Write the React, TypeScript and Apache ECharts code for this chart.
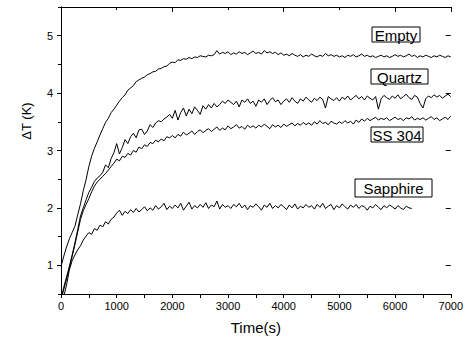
import React, { useEffect, useRef } from "react";
import * as echarts from "echarts";

const STEP = 50;
const EMPTY = [
  0.98, 1.16, 1.32, 1.46, 1.57, 1.68, 1.88, 2.07, 2.3, 2.49,
  2.72, 2.9, 3.04, 3.15, 3.27, 3.38, 3.49, 3.56, 3.66, 3.72,
  3.79, 3.86, 3.92, 3.97, 4.05, 4.09, 4.13, 4.2, 4.23, 4.26,
  4.28, 4.32, 4.34, 4.37, 4.38, 4.42, 4.43, 4.46, 4.47, 4.52,
  4.54, 4.53, 4.58, 4.57, 4.6, 4.59, 4.62, 4.6, 4.63, 4.62,
  4.65, 4.64, 4.63, 4.66, 4.65, 4.67, 4.74, 4.68, 4.71, 4.69,
  4.72, 4.67, 4.7, 4.68, 4.72, 4.69, 4.71, 4.67, 4.7, 4.73,
  4.69, 4.71, 4.68, 4.74, 4.7, 4.72, 4.69, 4.71, 4.67, 4.7,
  4.66, 4.68, 4.65, 4.69, 4.66, 4.64, 4.67, 4.63, 4.66, 4.64,
  4.68, 4.65, 4.63, 4.66, 4.64, 4.69, 4.65, 4.67, 4.64, 4.66,
  4.63, 4.65, 4.62, 4.66, 4.64, 4.67, 4.63, 4.65, 4.68, 4.64,
  4.66, 4.63, 4.65, 4.62, 4.64, 4.66, 4.63, 4.65, 4.62, 4.64,
  4.67, 4.64, 4.66, 4.63, 4.65, 4.68, 4.64, 4.66, 4.62, 4.65,
  4.63, 4.66, 4.64, 4.62, 4.65, 4.63, 4.66, 4.64, 4.62, 4.65,
  4.63,
];
const QUARTZ = [
  0.42, 0.62, 0.8, 0.98, 1.18, 1.39, 1.62, 1.86, 2.0, 2.14,
  2.27, 2.36, 2.46, 2.52, 2.56, 2.62, 2.75, 2.7, 2.86, 2.96,
  3.12, 2.94, 3.05, 3.19, 3.12, 3.24, 3.3, 3.22, 3.36, 3.37,
  3.28, 3.34, 3.45, 3.4, 3.48, 3.52, 3.5, 3.55, 3.58, 3.63,
  3.56, 3.7, 3.53, 3.66, 3.74, 3.6, 3.72, 3.64, 3.76, 3.7,
  3.63, 3.78, 3.72, 3.8, 3.74, 3.82, 3.76, 3.8, 3.86, 3.82,
  3.88, 3.84, 3.8, 3.86, 3.76, 3.88, 3.84, 3.9, 3.82, 3.86,
  3.77, 3.88, 3.84, 3.9, 3.8, 3.87, 3.92, 3.85, 3.88, 3.8,
  3.86, 3.9, 3.84, 3.92, 3.86, 3.82, 3.9, 3.86, 3.93, 3.88,
  3.84, 3.91, 3.87, 3.93, 3.89, 3.74, 3.94, 3.9, 3.87, 3.92,
  3.86, 3.93, 3.89, 3.95, 3.88, 3.92, 3.96, 3.9, 3.94, 3.88,
  3.95, 3.91, 3.88, 3.94, 3.72, 3.9, 3.96, 3.92, 3.89, 3.95,
  3.91, 3.97, 3.9, 3.94, 3.98, 3.92, 3.89, 3.96, 3.93, 3.82,
  3.74, 3.9, 3.95, 3.92, 3.97, 3.93, 3.96, 3.91, 3.95, 3.98,
  3.94,
];
const SS304 = [
  0.4, 0.58, 0.76, 0.95, 1.15, 1.36, 1.58, 1.8, 1.95, 2.06,
  2.16, 2.28, 2.38, 2.45, 2.5, 2.55, 2.6, 2.66, 2.72, 2.78,
  2.85, 2.82, 2.9, 2.88, 2.95, 2.92, 3.0, 2.97, 3.06, 3.03,
  3.1, 3.07, 3.14, 3.12, 3.18, 3.15, 3.2, 3.17, 3.24, 3.22,
  3.26, 3.22, 3.28, 3.25, 3.32, 3.27, 3.3, 3.34, 3.28, 3.33,
  3.36, 3.31, 3.35, 3.38, 3.33, 3.37, 3.41, 3.35, 3.39, 3.36,
  3.43, 3.38, 3.41, 3.45, 3.39, 3.42, 3.37, 3.44, 3.4, 3.43,
  3.39, 3.44, 3.41, 3.46, 3.42, 3.38, 3.45, 3.41, 3.44, 3.4,
  3.46, 3.42, 3.45, 3.48, 3.43, 3.47, 3.44, 3.49, 3.45, 3.48,
  3.44, 3.5, 3.46, 3.52, 3.47, 3.49, 3.45, 3.51, 3.48, 3.46,
  3.5, 3.47, 3.52, 3.48, 3.51, 3.46, 3.53, 3.49, 3.55, 3.51,
  3.56, 3.52, 3.55, 3.58, 3.53, 3.56, 3.54, 3.57, 3.52, 3.55,
  3.58, 3.54, 3.56, 3.52, 3.57, 3.55, 3.59, 3.53, 3.56, 3.54,
  3.57, 3.53, 3.56, 3.59, 3.54, 3.57, 3.52, 3.55, 3.58, 3.54,
  3.6,
];
const SAPPHIRE = [
  0.35, 0.46, 0.66, 0.92, 1.08, 1.18, 1.27, 1.34, 1.44, 1.51,
  1.57, 1.54, 1.64, 1.61, 1.7, 1.67, 1.76, 1.72, 1.8, 1.84,
  1.91, 1.96, 1.87, 1.94, 1.9, 1.97, 1.92, 1.99, 1.93, 1.97,
  2.02, 1.95, 2.0, 1.96, 2.04, 1.98, 2.02, 2.08, 1.97, 2.03,
  1.99, 2.05, 2.0, 2.08, 1.96, 2.03, 2.1, 1.98, 2.04, 2.0,
  2.06, 2.01, 2.09, 1.99, 2.05, 2.02, 2.12, 1.98, 2.06, 2.01,
  2.04, 1.99, 2.06, 2.02, 2.08, 2.0, 2.05, 1.97, 2.04, 2.01,
  2.07, 2.02, 1.96, 2.05, 2.01, 2.08, 1.99, 2.04, 2.0, 2.06,
  2.02, 1.97, 2.05, 2.0, 2.07, 1.98, 2.03, 2.0, 2.06, 2.01,
  2.04, 1.98, 2.06, 2.01, 2.08, 1.99, 2.03, 2.06, 1.97, 2.04,
  2.0, 2.07, 2.02, 1.98, 2.05, 2.01, 2.06, 1.99, 2.04, 2.02,
  1.96, 2.03, 2.0, 2.06, 2.01, 1.97, 2.04, 2.0, 2.05, 2.02,
  1.98, 2.04, 2.0, 1.97, 2.03, 2.0, 1.99,
];
const SERIES_NAMES = ["Empty", "Quartz", "SS 304", "Sapphire"];
const Y_LABELS = [1, 2, 3, 4, 5];

const FONT = "'Liberation Sans', Arial, sans-serif";

function toPairs(vals: number[]) {
  return vals.map((v, i) => [i * STEP, v]);
}

function box(text: string, cx: number, cy: number, w: number, h: number) {
  return {
    type: "group",
    children: [
      {
        type: "rect",
        shape: { x: cx - w / 2, y: cy - h / 2, width: w, height: h },
        style: { fill: "#fff", stroke: "#000", lineWidth: 1 },
      },
      {
        type: "text",
        x: cx,
        y: cy + 0.5,
        style: {
          text,
          fontSize: 15,
          fontFamily: FONT,
          fill: "#000",
          align: "center",
          verticalAlign: "middle",
        },
      },
    ],
  };
}

export default function App() {
  const ref = useRef<HTMLDivElement>(null);
  useEffect(() => {
    if (!ref.current) return;
    const chart = echarts.init(ref.current, null, { renderer: "svg" });
    const line = { show: true, lineStyle: { color: "#000", width: 1 } };
    const datasets = [EMPTY, QUARTZ, SS304, SAPPHIRE];
    chart.setOption({
      animation: false,
      backgroundColor: "#fff",
      grid: { left: 61, right: 15, top: 7, bottom: 47, containLabel: false },
      xAxis: [
        {
          type: "value",
          position: "bottom",
          min: 0,
          max: 7000,
          interval: 1000,
          axisLine: line,
          axisTick: { show: true, inside: false, length: 4, lineStyle: { color: "#000" } },
          minorTick: { show: true, splitNumber: 2, length: 4, lineStyle: { color: "#000" } },
          splitLine: { show: false },
          axisLabel: {
            color: "#000",
            fontSize: 11,
            fontFamily: FONT,
            margin: 6,
            formatter: (v: number) => String(v),
          },
          name: "Time(s)",
          nameLocation: "middle",
          nameGap: 26,
          nameTextStyle: { color: "#000", fontSize: 15, fontFamily: FONT },
        },
        {
          type: "value",
          position: "top",
          min: 0,
          max: 7000,
          interval: 1000,
          axisLine: line,
          axisTick: { show: true, inside: true, length: 3, lineStyle: { color: "#000" } },
          splitLine: { show: false },
          axisLabel: { show: false },
        },
        {
          type: "value",
          position: "top",
          min: 0,
          max: 7000,
          interval: 2000,
          axisLine: { show: false },
          axisTick: { show: true, inside: true, length: 5, lineStyle: { color: "#000" } },
          splitLine: { show: false },
          axisLabel: { show: false },
        },
      ],
      yAxis: [
        {
          type: "value",
          position: "left",
          min: 0.5,
          max: 5.5,
          interval: 0.5,
          axisLine: line,
          axisTick: { show: true, inside: false, length: 2, lineStyle: { color: "#000" } },
          splitLine: { show: false },
          axisLabel: {
            color: "#000",
            fontSize: 11,
            fontFamily: FONT,
            margin: 8,
            formatter: (v: number) => (Y_LABELS.includes(v) ? String(v) : ""),
          },
        },
        {
          type: "value",
          position: "left",
          min: 0.5,
          max: 5.5,
          axisLine: { show: false },
          axisTick: { show: true, inside: false, length: 4, customValues: Y_LABELS, lineStyle: { color: "#000" } },
          splitLine: { show: false },
          axisLabel: { show: false },
        },
        {
          type: "value",
          position: "right",
          min: 0.5,
          max: 5.5,
          interval: 0.5,
          axisLine: line,
          axisTick: { show: true, inside: true, length: 3, lineStyle: { color: "#000" } },
          splitLine: { show: false },
          axisLabel: { show: false },
        },
        {
          type: "value",
          position: "right",
          min: 0.5,
          max: 5.5,
          axisLine: { show: false },
          axisTick: { show: true, inside: true, length: 5, customValues: Y_LABELS, lineStyle: { color: "#000" } },
          splitLine: { show: false },
          axisLabel: { show: false },
        },
      ],
      series: datasets.map((d, i) => ({
        name: SERIES_NAMES[i],
        type: "line",
        xAxisIndex: 0,
        yAxisIndex: 0,
        data: toPairs(d),
        showSymbol: false,
        symbol: "none",
        clip: true,
        lineStyle: { color: "#000", width: 1 },
      })),
      graphic: [
        {
          type: "text",
          x: 26,
          y: 121,
          rotation: Math.PI / 2,
          style: {
            text: "ΔT (K)",
            fontSize: 13,
            fontFamily: FONT,
            fill: "#000",
            align: "center",
            verticalAlign: "middle",
          },
        },
        box(SERIES_NAMES[0], 396, 34.5, 48, 15),
        box(SERIES_NAMES[1], 399.5, 76.5, 57, 15),
        box(SERIES_NAMES[2], 397, 134.5, 52, 15),
        box(SERIES_NAMES[3], 393.5, 188, 77, 18),
      ],
    });
    return () => chart.dispose();
  }, []);
  return (
    <div
      ref={ref}
      style={{ position: "fixed", left: 0, top: 0, width: 466, height: 341 }}
    />
  );
}
